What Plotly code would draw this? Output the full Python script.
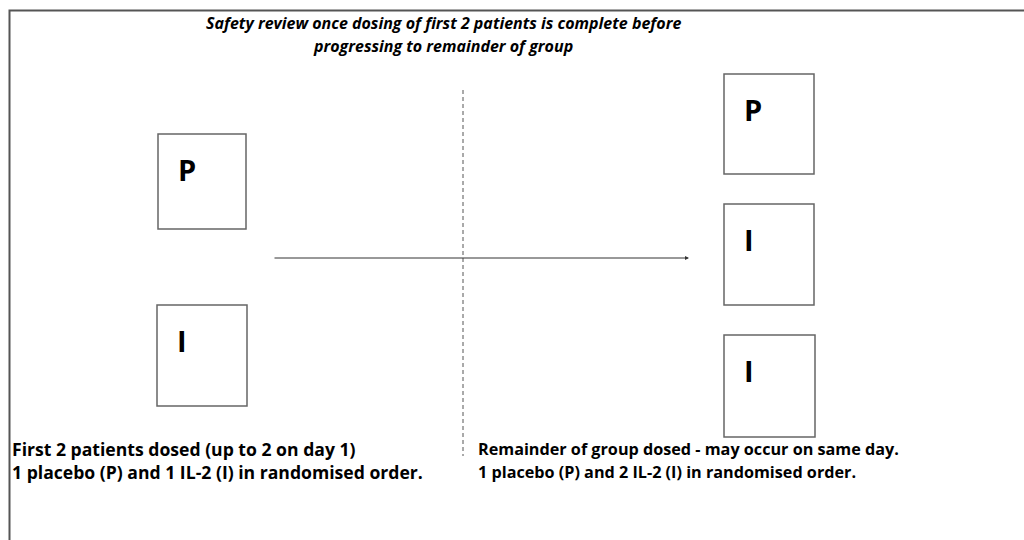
import plotly.graph_objects as go

# ---- content ----
title_lines = ["Safety review once dosing of first 2 patients is complete before",
               "progressing to remainder of group"]
left_box_labels = ["P", "I"]
right_box_labels = ["P", "I", "I"]
left_caption = ["First 2 patients dosed (up to 2 on day 1)",
                "1 placebo (P) and 1 IL-2 (I) in randomised order."]
right_caption = ["Remainder of group dosed - may occur on same day.",
                 "1 placebo (P) and 2 IL-2 (I) in randomised order."]

# ---- layout geometry (pixel space) ----
left_boxes = [(158, 134, 246, 229), (157, 305, 247, 406)]
right_boxes = [(724, 74, 814, 174), (724, 204, 814, 305), (724, 335, 815, 437)]

FONT = "Open Sans, Noto Sans, sans-serif"
fig = go.Figure()
fig.add_trace(go.Scatter(x=[0, 1024], y=[0, 540], mode="markers",
                         marker=dict(opacity=0), hoverinfo="skip", showlegend=False))

shapes = []
# frame
shapes.append(dict(type="path", path="M 9.5 540 L 9.5 10.5 L 1024 10.5",
                   line=dict(color="#555555", width=2), xref="x", yref="y"))
annotations = []
for boxes, labels in ((left_boxes, left_box_labels), (right_boxes, right_box_labels)):
    for (x0, y0, x1, y1), lab in zip(boxes, labels):
        shapes.append(dict(type="rect", x0=x0, y0=y0, x1=x1, y1=y1,
                           line=dict(color="#666666", width=1.5), xref="x", yref="y"))
        annotations.append(dict(x=x0 + 18, y=y0 + 35, text="<b>%s</b>" % lab,
                                showarrow=False, xanchor="left", yanchor="middle",
                                font=dict(family=FONT, size=29, color="black"),
                                xref="x", yref="y"))
# dashed divider
shapes.append(dict(type="line", x0=463, y0=90, x1=463, y1=456,
                   line=dict(color="#555555", width=1, dash="4px,3px"), xref="x", yref="y"))
# arrow
annotations.append(dict(x=689, y=258, ax=273, ay=258, xref="x", yref="y",
                        axref="x", ayref="y", text="", showarrow=True,
                        arrowhead=2, arrowsize=0.8, arrowwidth=1, arrowcolor="#333333"))
# title
for i, t in enumerate(title_lines):
    annotations.append(dict(x=443, y=23 + 23 * i, text="<b><i>%s</i></b>" % t,
                            showarrow=False, xanchor="center", yanchor="middle",
                            font=dict(family=FONT, size=16, color="black"),
                            xref="x", yref="y"))
for x, lines, fs in ((10, left_caption, 17.6), (476, right_caption, 16.2)):
    for i, t in enumerate(lines):
        annotations.append(dict(x=x, y=449 + 23 * i, text="<b>%s</b>" % t,
                                showarrow=False, xanchor="left", yanchor="middle",
                                font=dict(family=FONT, size=fs, color="black"),
                                xref="x", yref="y"))

fig.update_layout(width=1024, height=540, margin=dict(l=0, r=0, t=0, b=0),
                  paper_bgcolor="white", plot_bgcolor="white",
                  shapes=shapes, annotations=annotations,
                  xaxis=dict(range=[0, 1024], visible=False, fixedrange=True),
                  yaxis=dict(range=[540, 0], visible=False, fixedrange=True),
                  showlegend=False)
fig.write_html("out.html", config={"displayModeBar": False},
               post_script="document.body.style.margin='0';document.body.style.overflow='hidden';")
